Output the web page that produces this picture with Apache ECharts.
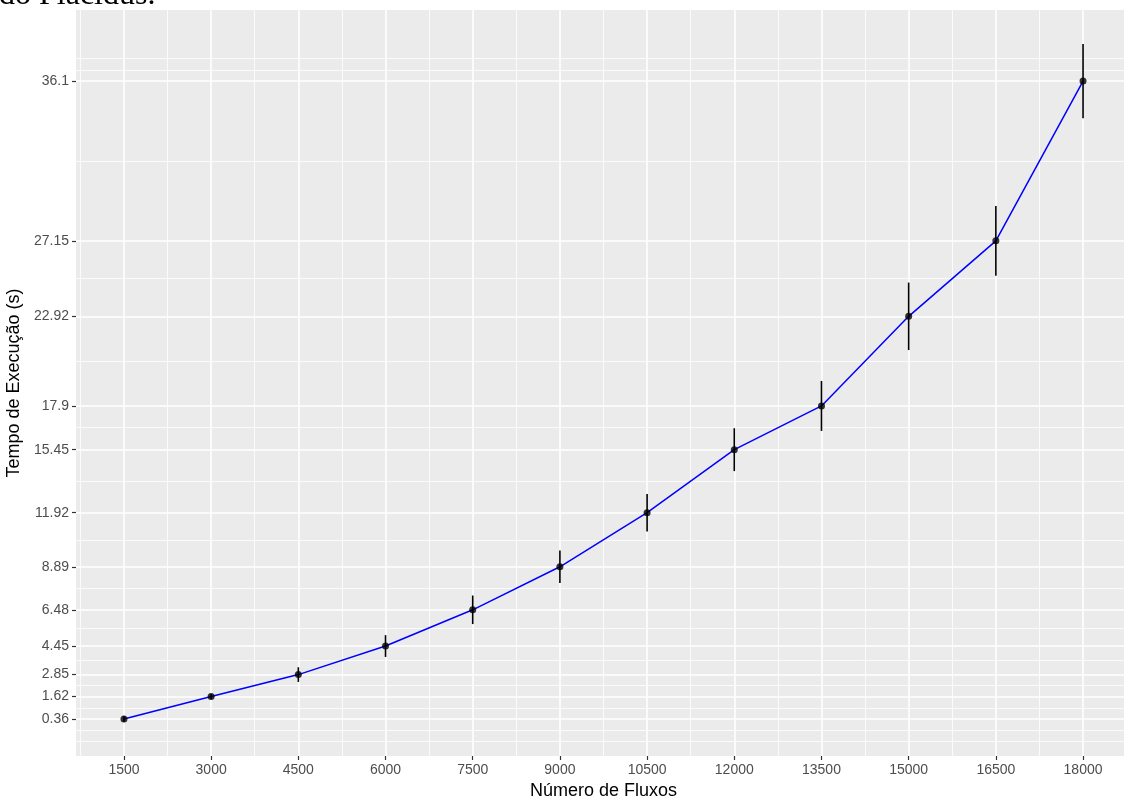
<!DOCTYPE html>
<html>
<head>
<meta charset="utf-8">
<script src="https://cdn.jsdelivr.net/npm/echarts@6/dist/echarts.min.js"></script>
<style>html,body{margin:0;padding:0;background:#fff}#c{width:1124px;height:796px}</style>
</head>
<body>
<div id="c"></div>
<script>
// ---- data ----
const fluxos = [1500, 3000, 4500, 6000, 7500, 9000, 10500, 12000, 13500, 15000, 16500, 18000];
const tempo = [0.36, 1.62, 2.85, 4.45, 6.48, 8.89, 11.92, 15.45, 17.9, 22.92, 27.15, 36.1];
const erro = [0.17, 0.15, 0.41, 0.61, 0.80, 0.91, 1.05, 1.20, 1.40, 1.89, 1.95, 2.08];
// ---- axis breaks ----
const xBreaks = [1500, 3000, 4500, 6000, 7500, 9000, 10500, 12000, 13500, 15000, 16500, 18000];
const xMinor = [750, 2250, 3750, 5250, 6750, 8250, 9750, 11250, 12750, 14250, 15750, 17250, 18750];
const yBreaks = [0.36, 1.62, 2.85, 4.45, 6.48, 8.89, 11.92, 15.45, 17.9, 22.92, 27.15, 36.1];
const yLabels = ['0.36', '1.62', '2.85', '4.45', '6.48', '8.89', '11.92', '15.45', '17.9', '22.92', '27.15', '36.1'];
const yMinor = [-0.9, -0.27, 0.99, 2.235, 3.65, 5.465, 7.685, 10.405, 13.685, 16.675, 20.41, 25.035, 31.625, 36.73, 37.36];

const FONT = '"Liberation Sans", Arial, sans-serif';
const chart = echarts.init(document.getElementById('c'), null, {renderer: 'canvas'});

const gridLines = [];
xMinor.forEach(v => gridLines.push({xAxis: v, lineStyle: {width: 0.8}}));
yMinor.forEach(v => gridLines.push({yAxis: v, lineStyle: {width: 0.8}}));
xBreaks.forEach(v => gridLines.push({xAxis: v, lineStyle: {width: 1.6}}));
yBreaks.forEach(v => gridLines.push({yAxis: v, lineStyle: {width: 1.6}}));

const pts = fluxos.map((x, i) => [x, tempo[i]]);
const bars = fluxos.map((x, i) => [x, tempo[i] - erro[i], tempo[i] + erro[i]]);

chart.setOption({
  animation: false,
  backgroundColor: '#ffffff',
  graphic: [{
    type: 'text', x: -1, y: 12, z: 100,
    style: {text: 'do Placidus.', font: '32px "Liberation Serif", "Times New Roman", serif', fill: '#000', verticalAlign: 'bottom'}
  }],
  grid: {left: 76, right: -7, top: 10, bottom: 40, show: true, backgroundColor: '#EBEBEB', borderWidth: 0,
    containLabel: false, outerBoundsMode: 'none'},
  xAxis: {
    type: 'value', min: 675, max: 18825,
    name: 'Número de Fluxos', nameLocation: 'middle', nameGap: 22,
    nameTextStyle: {color: '#000', fontSize: 18, fontFamily: FONT},
    axisLine: {show: false, onZero: false},
    axisTick: {show: true, length: 4, customValues: xBreaks, lineStyle: {color: '#333333', width: 1.2}},
    axisLabel: {customValues: xBreaks, color: '#4D4D4D', fontSize: 14, fontFamily: FONT, margin: 7,
      formatter: v => String(v)},
    splitLine: {show: false}
  },
  yAxis: {
    type: 'value', min: -1.71, max: 40.08,
    name: 'Tempo de Execução (s)', nameLocation: 'middle', nameGap: 45,
    nameTextStyle: {color: '#000', fontSize: 18, fontFamily: FONT},
    axisLine: {show: false, onZero: false},
    axisTick: {show: true, length: 4, customValues: yBreaks, lineStyle: {color: '#333333', width: 1.2}},
    axisLabel: {
      customValues: yBreaks, color: '#4D4D4D', fontSize: 14, fontFamily: FONT, margin: 7,
      formatter: v => { const i = yBreaks.indexOf(v); return i >= 0 ? yLabels[i] : String(v); }
    },
    splitLine: {show: false}
  },
  series: [
    {
      type: 'line', z: 1, data: pts, showSymbol: false, silent: true,
      lineStyle: {opacity: 0},
      markLine: {silent: true, z: 1, symbol: ['none', 'none'], label: {show: false},
        lineStyle: {color: '#FFFFFF', type: 'solid'}, data: gridLines, animation: false}
    },
    {
      type: 'line', z: 3, data: pts, showSymbol: false, silent: true,
      lineStyle: {color: '#0000FF', width: 1.5}
    },
    {
      type: 'custom', z: 4, silent: true, data: bars,
      renderItem: (params, api) => {
        const x = api.value(0);
        const p1 = api.coord([x, api.value(1)]);
        const p2 = api.coord([x, api.value(2)]);
        return {type: 'line', shape: {x1: p1[0], y1: p1[1], x2: p2[0], y2: p2[1]},
          style: {stroke: '#000', lineWidth: 1.6}};
      }
    },
    {
      type: 'scatter', z: 5, data: pts, symbol: 'circle', symbolSize: 7, silent: true,
      itemStyle: {color: '#000'}
    }
  ]
});
</script>
</body>
</html>
